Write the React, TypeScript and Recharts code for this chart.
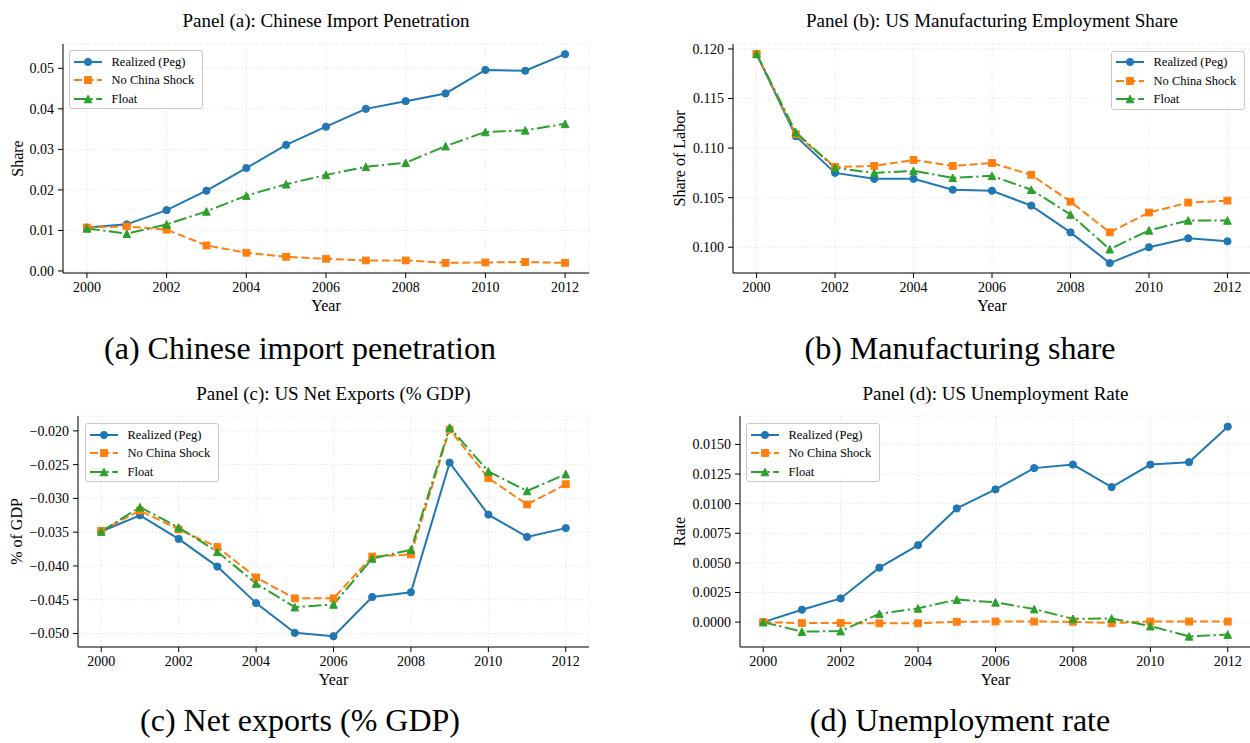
import React from "react";
import { CartesianGrid, Legend, Line, LineChart, XAxis, YAxis } from "recharts";

const FONT = '"Liberation Serif", "Times New Roman", serif';

const YEARS = [2000, 2001, 2002, 2003, 2004, 2005, 2006, 2007, 2008, 2009, 2010, 2011, 2012];
const YEAR_TICKS = [2000, 2002, 2004, 2006, 2008, 2010, 2012];
const YEAR_DOMAIN: [number, number] = [1999.4, 2012.6];

// Panel (a): Chinese import penetration
const IMPORT_PEG = [0.0107, 0.0115, 0.015, 0.0198, 0.0254, 0.0311, 0.0356, 0.04, 0.0419, 0.0438, 0.0496, 0.0494, 0.0535];
const IMPORT_NO_SHOCK = [0.0107, 0.011, 0.0102, 0.0063, 0.0045, 0.0035, 0.003, 0.0026, 0.0026, 0.002, 0.0021, 0.0022, 0.002];
const IMPORT_FLOAT = [0.0105, 0.0092, 0.0115, 0.0147, 0.0186, 0.0214, 0.0237, 0.0257, 0.0267, 0.0308, 0.0343, 0.0347, 0.0363];
const IMPORT_TICKS = [0, 0.01, 0.02, 0.03, 0.04, 0.05];

// Panel (b): manufacturing employment share
const MANUF_PEG = [0.1195, 0.1112, 0.1075, 0.1069, 0.1069, 0.1058, 0.1057, 0.1042, 0.1015, 0.0984, 0.1, 0.1009, 0.1006];
const MANUF_NO_SHOCK = [0.1195, 0.1114, 0.1081, 0.1082, 0.1088, 0.1082, 0.1085, 0.1073, 0.1046, 0.1015, 0.1035, 0.1045, 0.1047];
const MANUF_FLOAT = [0.1195, 0.1116, 0.108, 0.1075, 0.1077, 0.107, 0.1072, 0.1058, 0.1033, 0.0998, 0.1017, 0.1027, 0.1027];
const MANUF_TICKS = [0.1, 0.105, 0.11, 0.115, 0.12];

// Panel (c): net exports, share of GDP
const NX_PEG = [-0.0349, -0.0325, -0.036, -0.0401, -0.0455, -0.0499, -0.0504, -0.0446, -0.0439, -0.0247, -0.0324, -0.0357, -0.0344];
const NX_NO_SHOCK = [-0.0348, -0.0318, -0.0346, -0.0372, -0.0417, -0.0448, -0.0448, -0.0386, -0.0383, -0.0198, -0.027, -0.0309, -0.0279];
const NX_FLOAT = [-0.0349, -0.0313, -0.0343, -0.0379, -0.0426, -0.0461, -0.0457, -0.0389, -0.0376, -0.0195, -0.026, -0.0289, -0.0264];
const NX_TICKS = [-0.05, -0.045, -0.04, -0.035, -0.03, -0.025, -0.02];

// Panel (d): unemployment rate
const UNEMP_PEG = [0, 0.00105, 0.002, 0.0046, 0.0065, 0.0096, 0.0112, 0.013, 0.0133, 0.0114, 0.0133, 0.0135, 0.0165];
const UNEMP_NO_SHOCK = [0, -0.00008, -0.00008, -0.0001, -0.0001, 0.00003, 0.00005, 0.00005, 0.00003, -0.00008, 0.00005, 0.00005, 0.00005];
const UNEMP_FLOAT = [0, -0.0008, -0.00076, 0.0007, 0.00116, 0.0019, 0.00167, 0.0011, 0.00028, 0.00031, -0.00034, -0.0012, -0.00105];
const UNEMP_TICKS = [0, 0.0025, 0.005, 0.0075, 0.01, 0.0125, 0.015];

type Shape = "circle" | "square" | "triangle";

const SERIES: { key: string; name: string; color: string; dash?: string; shape: Shape }[] = [
  { key: "peg", name: "Realized (Peg)", color: "#1f77b4", shape: "circle" },
  { key: "noShock", name: "No China Shock", color: "#ff7f0e", dash: "8 3.5", shape: "square" },
  { key: "float", name: "Float", color: "#2ca02c", dash: "13 3.5 2.2 3.5", shape: "triangle" },
];

function Marker({ shape, cx, cy, color }: { shape: Shape; cx: number; cy: number; color: string }) {
  if (cx == null || cy == null) return null;
  if (shape === "circle") {
    return <circle cx={cx} cy={cy} r={3.6} fill={color} stroke={color} strokeWidth={1} />;
  }
  if (shape === "square") {
    return <rect x={cx - 3.4} y={cy - 3.4} width={6.8} height={6.8} fill={color} stroke={color} strokeWidth={1} />;
  }
  const h = 3.8;
  return (
    <path
      d={`M${cx},${cy - h}L${cx + h},${cy + h}L${cx - h},${cy + h}Z`}
      fill={color}
      stroke={color}
      strokeWidth={1}
    />
  );
}

// matplotlib-style legend box; keeps the plotting order rather than Recharts' sorted payload
function LegendBox({ payload }: any) {
  const shown = new Set((payload ?? []).map((p: any) => p.dataKey));
  const items = SERIES.filter((s) => shown.has(s.key));
  return (
    <div
      style={{
        width: 134,
        height: 59,
        boxSizing: "border-box",
        border: "1px solid #c8c8c8",
        borderRadius: 3,
        background: "rgba(255,255,255,0.8)",
        paddingTop: 1.5,
        paddingLeft: 4,
        fontFamily: FONT,
        fontSize: 12.5,
        color: "#000",
      }}
    >
      {items.map((s) => (
        <div key={s.key} style={{ display: "flex", alignItems: "center", height: 18.5 }}>
          <svg width={28} height={12} style={{ display: "block" }}>
            <line x1={0} y1={6} x2={28} y2={6} stroke={s.color} strokeWidth={2} strokeDasharray={s.dash} />
            <Marker shape={s.shape} cx={14} cy={6} color={s.color} />
          </svg>
          <span style={{ marginLeft: 9.5, lineHeight: 1, whiteSpace: "nowrap", fontFamily: FONT }}>{s.name}</span>
        </div>
      ))}
    </div>
  );
}

type PanelProps = {
  left: number;
  top: number;
  width: number;
  height: number;
  margin: { top: number; right: number; bottom: number; left: number };
  yWidth: number;
  yDomain: [number, number];
  yTicks: number[];
  yFormat: (v: number) => string;
  yLabel: string;
  yLabelOffset: number;
  legendAt: { left: number; top: number };
  peg: number[];
  noShock: number[];
  float: number[];
};

function Panel(p: PanelProps) {
  const data = YEARS.map((year, i) => ({
    year,
    peg: p.peg[i],
    noShock: p.noShock[i],
    float: p.float[i],
  }));
  const tickStyle = { fontFamily: FONT, fontSize: 14, fill: "#000" };
  return (
    <div style={{ position: "absolute", left: p.left, top: p.top }}>
      <LineChart width={p.width} height={p.height} data={data} margin={p.margin}>
        <CartesianGrid stroke="#dedede" strokeWidth={0.8} strokeDasharray="1.5 2" />
        <XAxis
          dataKey="year"
          type="number"
          domain={YEAR_DOMAIN}
          ticks={YEAR_TICKS}
          allowDataOverflow
          interval={0}
          height={38}
          tickSize={5}
          tickMargin={4}
          tick={tickStyle}
          stroke="#000"
          label={{ value: "Year", position: "insideBottom", offset: 0, fill: "#000", fontSize: 16, fontFamily: FONT }}
        />
        <XAxis
          xAxisId="top"
          orientation="top"
          type="number"
          domain={YEAR_DOMAIN}
          allowDataOverflow
          height={0}
          tick={false}
          tickLine={false}
          stroke="#333"
        />
        <YAxis
          type="number"
          domain={p.yDomain}
          ticks={p.yTicks}
          allowDataOverflow
          interval={0}
          width={p.yWidth}
          tickSize={5}
          tickMargin={4}
          tick={tickStyle}
          tickFormatter={p.yFormat}
          stroke="#000"
          label={{
            value: p.yLabel,
            angle: -90,
            position: "insideLeft",
            offset: p.yLabelOffset,
            fill: "#000",
            fontSize: 16,
            fontFamily: FONT,
            style: { textAnchor: "middle" },
          }}
        />
        <YAxis
          yAxisId="right"
          orientation="right"
          type="number"
          domain={p.yDomain}
          allowDataOverflow
          width={0}
          tick={false}
          tickLine={false}
          stroke="#000"
        />
        {SERIES.map((s) => (
          <Line
            key={s.key}
            type="linear"
            dataKey={s.key}
            name={s.name}
            stroke={s.color}
            strokeWidth={2}
            strokeDasharray={s.dash}
            isAnimationActive={false}
            activeDot={false}
            dot={(d: any) => (
              <Marker key={`${s.key}-${d.index}`} shape={s.shape} cx={d.cx} cy={d.cy} color={s.color} />
            )}
          />
        ))}
        <Legend
          content={<LegendBox />}
          layout="horizontal"
          align="center"
          verticalAlign="middle"
          width={134}
          height={59}
          wrapperStyle={{ left: p.legendAt.left, top: p.legendAt.top }}
        />
      </LineChart>
    </div>
  );
}

const minus = (s: string) => s.replace("-", "\u2212");

export default function App() {
  return (
    <div
      style={{
        position: "absolute",
        left: 0,
        top: 0,
        width: 1250,
        height: 743,
        overflow: "hidden",
        background: "#fff",
        fontFamily: FONT,
      }}
    >
      <svg width={1250} height={743} style={{ position: "absolute", left: 0, top: 0 }}>
        <g fontFamily={FONT} fill="#000" textAnchor="middle">
          <text x={326} y={27} fontSize={19}>Panel (a): Chinese Import Penetration</text>
          <text x={992} y={27} fontSize={19}>Panel (b): US Manufacturing Employment Share</text>
          <text x={333.5} y={399.5} fontSize={19}>Panel (c): US Net Exports (% GDP)</text>
          <text x={995.5} y={399.5} fontSize={19}>Panel (d): US Unemployment Rate</text>
          <text x={300} y={359} fontSize={32}>(a) Chinese import penetration</text>
          <text x={960} y={359} fontSize={32}>(b) Manufacturing share</text>
          <text x={300} y={731} fontSize={32}>(c) Net exports (% GDP)</text>
          <text x={960} y={731} fontSize={32}>(d) Unemployment rate</text>
        </g>
      </svg>

      <Panel
        left={0}
        top={0}
        width={600}
        height={320}
        margin={{ top: 44, right: 11, bottom: 9, left: 0 }}
        yWidth={63}
        yDomain={[-0.0005, 0.056]}
        yTicks={IMPORT_TICKS}
        yFormat={(v) => v.toFixed(2)}
        yLabel="Share"
        yLabelOffset={17}
        legendAt={{ left: 69, top: 50 }}
        peg={IMPORT_PEG}
        noShock={IMPORT_NO_SHOCK}
        float={IMPORT_FLOAT}
      />
      <Panel
        left={640}
        top={0}
        width={621}
        height={320}
        margin={{ top: 44, right: 10, bottom: 9, left: 0 }}
        yWidth={93}
        yDomain={[0.0974, 0.1205]}
        yTicks={MANUF_TICKS}
        yFormat={(v) => v.toFixed(3)}
        yLabel="Share of Labor"
        yLabelOffset={39}
        legendAt={{ left: 471, top: 50.5 }}
        peg={MANUF_PEG}
        noShock={MANUF_NO_SHOCK}
        float={MANUF_FLOAT}
      />
      <Panel
        left={0}
        top={372}
        width={600}
        height={320}
        margin={{ top: 44, right: 11, bottom: 7, left: 0 }}
        yWidth={78}
        yDomain={[-0.052, -0.0178]}
        yTicks={NX_TICKS}
        yFormat={(v) => minus(v.toFixed(3))}
        yLabel="% of GDP"
        yLabelOffset={16}
        legendAt={{ left: 85, top: 51 }}
        peg={NX_PEG}
        noShock={NX_NO_SHOCK}
        float={NX_FLOAT}
      />
      <Panel
        left={640}
        top={372}
        width={621}
        height={320}
        margin={{ top: 44, right: 10, bottom: 7, left: 0 }}
        yWidth={100}
        yDomain={[-0.0021, 0.0174]}
        yTicks={UNEMP_TICKS}
        yFormat={(v) => v.toFixed(4)}
        yLabel="Rate"
        yLabelOffset={39}
        legendAt={{ left: 106, top: 51 }}
        peg={UNEMP_PEG}
        noShock={UNEMP_NO_SHOCK}
        float={UNEMP_FLOAT}
      />
    </div>
  );
}
